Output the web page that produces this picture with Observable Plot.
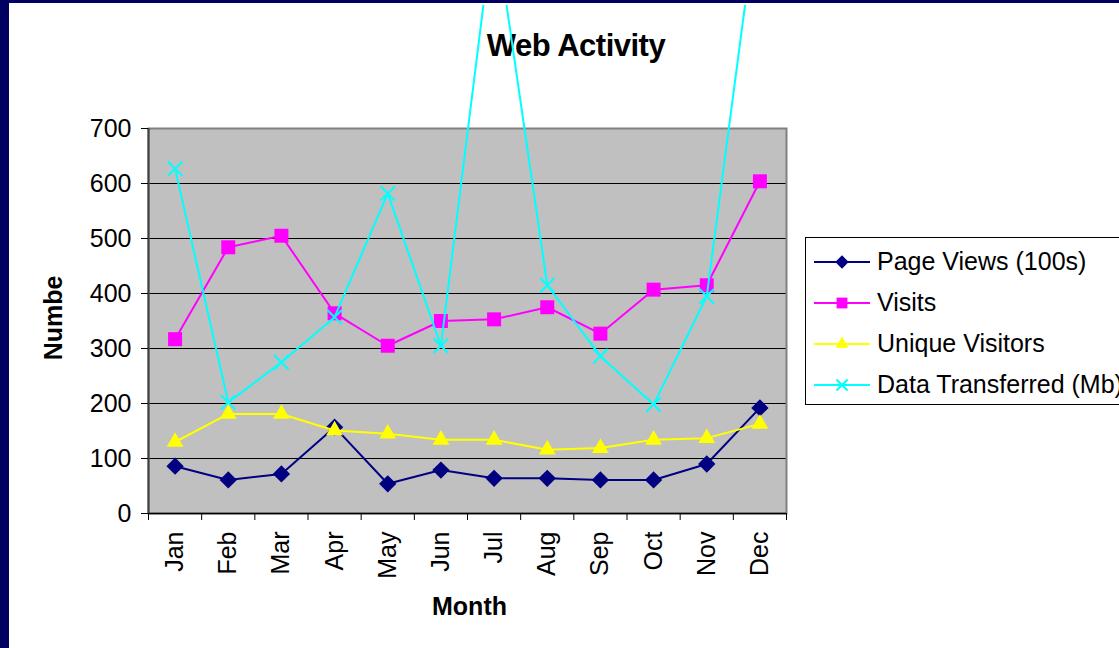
<!DOCTYPE html>
<html>
<head>
<meta charset="utf-8">
<script src="https://cdn.jsdelivr.net/npm/d3@7"></script>
<script src="https://cdn.jsdelivr.net/npm/@observablehq/plot@0.6"></script>
<style>
  html, body { margin: 0; padding: 0; background: #ffffff; }
  body { width: 1119px; height: 648px; overflow: hidden; position: relative;
         font-family: "Liberation Sans", Arial, Helvetica, sans-serif; color: #000; }
  #borderLeft { position: absolute; left: 0; top: 0; width: 9px; height: 648px; background: #000060; }
  #borderTop { position: absolute; left: 0; top: 0; width: 1119px; height: 3px; background: #000060; }
  #title { position: absolute; left: 576px; top: 29.8px; transform: translateX(-50%);
           font-weight: bold; font-size: 31px; line-height: 31px; white-space: nowrap; letter-spacing: -0.5px; }
  #xlabel { position: absolute; left: 469.5px; top: 593.8px; transform: translateX(-50%);
            font-weight: bold; font-size: 25px; line-height: 25px; white-space: nowrap; }
  #ylabel { position: absolute; left: 52.5px; top: 317.5px; transform: translate(-50%, -50%) rotate(-90deg);
            font-weight: bold; font-size: 25px; line-height: 25px; white-space: nowrap; }
  #chart { position: absolute; left: 9px; top: 5px; }
  #legend { position: absolute; left: 805px; top: 237px; width: 340px; height: 168px; box-sizing: border-box;
            border: 1px solid #000; background: #fff; padding-top: 3px; }
  .row { height: 41px; display: flex; align-items: center; white-space: nowrap; font-size: 25px; }
  .row svg { margin-left: 8px; margin-right: 7px; flex: none; }
</style>
</head>
<body>
<div id="borderLeft"></div>
<div id="borderTop"></div>
<div id="title">Web Activity</div>
<div id="chart"></div>
<div id="xlabel">Month</div>
<div id="ylabel">Numbe</div>
<div id="legend"></div>
<script>
// ---- data ----
const months = ["Jan", "Feb", "Mar", "Apr", "May", "Jun", "Jul", "Aug", "Sep", "Oct", "Nov", "Dec"];
const pageViews = [86, 61, 72, 157, 54, 79, 64, 64, 61, 61, 90, 192];
const visits = [317, 484, 505, 364, 305, 350, 353, 375, 327, 407, 415, 604];
const uniqueVisitors = [130, 181, 181, 151, 145, 134, 134, 116, 119, 134, 137, 163];
const dataTransferred = [627, 202, 275, 357, 582, 305, 1080, 415, 286, 198, 395, 1130];
const seriesNames = ["Page Views (100s)", "Visits", "Unique Visitors", "Data Transferred (Mb)"];
const yTicks = [0, 100, 200, 300, 400, 500, 600, 700];
const gridValues = [100, 200, 300, 400, 500, 600];

// ---- styles ----
const seriesColors = ["#000080", "#ff00ff", "#ffff00", "#00ffff"];
const seriesSymbols = ["diamond2", "square2", "triangle2", "times"];
const seriesRadius = [7.8, 8.9, 8, 6.6];
const symbolTypes = { diamond2: d3.symbolDiamond2, square2: d3.symbolSquare2, triangle2: d3.symbolTriangle2, times: d3.symbolTimes };

const seriesValues = [pageViews, visits, uniqueVisitors, dataTransferred];
const rows = seriesNames.flatMap((name, k) =>
  seriesValues[k].map((v, i) => ({ series: name, month: months[i], pos: i + 0.5, value: v }))
);
const bandEdges = d3.range(months.length + 1);
const bandCenters = months.map((m, i) => i + 0.5);

const marks = [
  Plot.frame({ fill: "#c0c0c0", stroke: "none" }),
  Plot.ruleY(gridValues, { stroke: "#000", strokeWidth: 1 }),
  Plot.frame({ stroke: "#808080", strokeWidth: 2 }),
  Plot.ruleY([0], { stroke: "#000", strokeWidth: 1.5 }),
  Plot.ruleX([0], { stroke: "#404040", strokeWidth: 2 }),
  Plot.axisY({ ticks: yTicks, tickSize: 7, tickPadding: 10, label: null, tickFormat: d => String(d) }),
  Plot.axisX({ ticks: bandEdges, tickSize: 7, tickFormat: () => "", label: null }),
  Plot.axisX({ ticks: bandCenters, tickSize: 0, tickPadding: 18, tickRotate: -90,
               tickFormat: d => months[Math.floor(d)], label: null })
];

seriesNames.forEach((name, k) => {
  const d = rows.filter(r => r.series === name);
  marks.push(Plot.line(d, { x: "pos", y: "value", stroke: seriesColors[k], strokeWidth: 2 }));
  const filled = seriesSymbols[k] !== "times";
  marks.push(Plot.dot(d, {
    x: "pos", y: "value", symbol: seriesSymbols[k], r: seriesRadius[k],
    fill: filled ? seriesColors[k] : "none",
    stroke: filled ? "none" : seriesColors[k],
    strokeWidth: filled ? 0 : 2
  }));
});

const chart = Plot.plot({
  width: 1110,
  height: 643,
  marginLeft: 139,
  marginRight: 333,
  marginTop: 123,
  marginBottom: 135,
  x: { type: "linear", domain: [0, 12] },
  y: { domain: [0, 700], nice: false },
  style: { fontSize: "25px", fontFamily: "'Liberation Sans', Arial, Helvetica, sans-serif",
           background: "transparent", overflow: "hidden", color: "#000" },
  marks
});
document.getElementById("chart").appendChild(chart);

// ---- legend ----
const legend = document.getElementById("legend");
seriesNames.forEach((name, k) => {
  const row = document.createElement("div");
  row.className = "row";
  const size = Math.PI * seriesRadius[k] * seriesRadius[k] * 0.6;
  const path = d3.symbol(symbolTypes[seriesSymbols[k]], size)();
  const filled = seriesSymbols[k] !== "times";
  row.innerHTML =
    `<svg width="56" height="20" viewBox="0 0 56 20">
       <line x1="0" y1="10" x2="56" y2="10" stroke="${seriesColors[k]}" stroke-width="2"/>
       <path d="${path}" transform="translate(28,10)" fill="${filled ? seriesColors[k] : "none"}"
             stroke="${filled ? "none" : seriesColors[k]}" stroke-width="2"/>
     </svg><span></span>`;
  row.querySelector("span").textContent = name;
  legend.appendChild(row);
});
</script>
</body>
</html>
